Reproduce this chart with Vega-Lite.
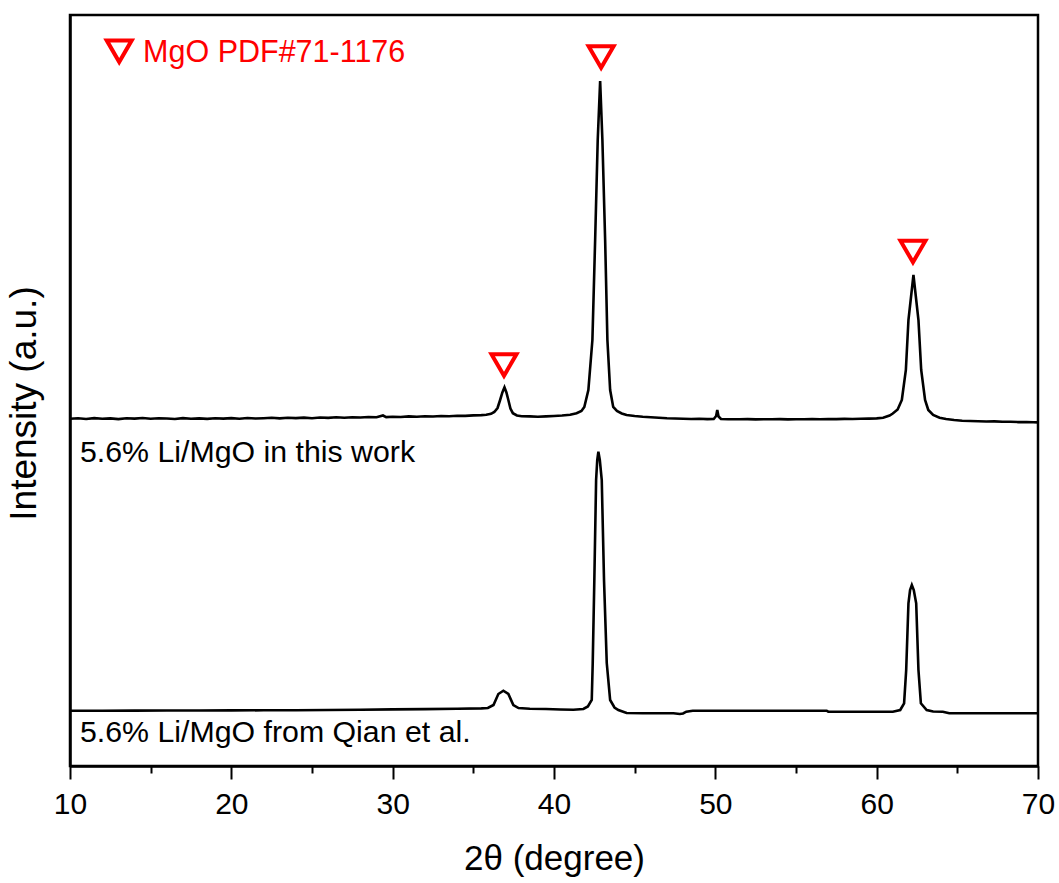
{
  "$schema": "https://vega.github.io/schema/vega-lite/v6.json",
  "width": 968,
  "height": 751,
  "autosize": {"type": "none"},
  "padding": {"left": 70, "top": 15, "right": 21, "bottom": 117},
  "background": "white",
  "config": {
    "view": {"stroke": "black", "strokeWidth": 2.5},
    "font": "Liberation Sans"
  },
  "datasets": {
    "traces": [
      {"series": "work", "x": 10.0, "y": 347.2}, {"series": "work", "x": 10.5, "y": 347.8}, {"series": "work", "x": 11.0, "y": 347.0}, {"series": "work", "x": 11.5, "y": 347.9}, {"series": "work", "x": 12.0, "y": 347.3}, {"series": "work", "x": 12.5, "y": 347.6}, {"series": "work", "x": 13.0, "y": 346.9}, {"series": "work", "x": 13.5, "y": 347.7}, {"series": "work", "x": 14.0, "y": 347.4}, {"series": "work", "x": 14.5, "y": 348.0}, {"series": "work", "x": 15.0, "y": 347.2}, {"series": "work", "x": 15.5, "y": 347.8}, {"series": "work", "x": 16.0, "y": 347.5}, {"series": "work", "x": 16.5, "y": 347.0}, {"series": "work", "x": 17.0, "y": 347.9}, {"series": "work", "x": 17.5, "y": 347.3}, {"series": "work", "x": 18.0, "y": 347.6}, {"series": "work", "x": 18.5, "y": 347.1}, {"series": "work", "x": 19.0, "y": 347.8}, {"series": "work", "x": 19.5, "y": 347.4}, {"series": "work", "x": 20.0, "y": 347.9}, {"series": "work", "x": 20.5, "y": 347.3}, {"series": "work", "x": 21.0, "y": 348.0}, {"series": "work", "x": 21.5, "y": 347.5}, {"series": "work", "x": 22.0, "y": 347.8}, {"series": "work", "x": 22.5, "y": 348.2}, {"series": "work", "x": 23.0, "y": 347.6}, {"series": "work", "x": 23.5, "y": 348.3}, {"series": "work", "x": 24.0, "y": 347.9}, {"series": "work", "x": 24.5, "y": 348.4}, {"series": "work", "x": 25.0, "y": 347.8}, {"series": "work", "x": 25.5, "y": 348.5}, {"series": "work", "x": 26.0, "y": 348.1}, {"series": "work", "x": 26.5, "y": 348.7}, {"series": "work", "x": 27.0, "y": 348.3}, {"series": "work", "x": 27.5, "y": 348.8}, {"series": "work", "x": 28.0, "y": 348.5}, {"series": "work", "x": 28.5, "y": 349.0}, {"series": "work", "x": 29.0, "y": 348.7}, {"series": "work", "x": 29.4, "y": 350.5}, {"series": "work", "x": 29.6, "y": 348.9}, {"series": "work", "x": 30.0, "y": 349.3}, {"series": "work", "x": 30.5, "y": 349.0}, {"series": "work", "x": 31.0, "y": 349.6}, {"series": "work", "x": 31.5, "y": 349.2}, {"series": "work", "x": 32.0, "y": 349.8}, {"series": "work", "x": 32.5, "y": 349.5}, {"series": "work", "x": 33.0, "y": 350.0}, {"series": "work", "x": 33.5, "y": 349.8}, {"series": "work", "x": 34.0, "y": 350.3}, {"series": "work", "x": 34.5, "y": 350.1}, {"series": "work", "x": 35.0, "y": 350.6}, {"series": "work", "x": 35.5, "y": 350.9}, {"series": "work", "x": 35.8, "y": 351.3}, {"series": "work", "x": 36.1, "y": 352.2}, {"series": "work", "x": 36.3, "y": 354.0}, {"series": "work", "x": 36.5, "y": 358.0}, {"series": "work", "x": 36.66, "y": 366.0}, {"series": "work", "x": 36.8, "y": 373.5}, {"series": "work", "x": 36.93, "y": 378.7}, {"series": "work", "x": 37.05, "y": 373.5}, {"series": "work", "x": 37.17, "y": 366.0}, {"series": "work", "x": 37.3, "y": 357.5}, {"series": "work", "x": 37.45, "y": 352.8}, {"series": "work", "x": 37.7, "y": 350.5}, {"series": "work", "x": 38.0, "y": 349.8}, {"series": "work", "x": 38.5, "y": 349.6}, {"series": "work", "x": 39.0, "y": 349.3}, {"series": "work", "x": 39.5, "y": 349.6}, {"series": "work", "x": 40.0, "y": 350.0}, {"series": "work", "x": 40.5, "y": 350.5}, {"series": "work", "x": 41.0, "y": 351.3}, {"series": "work", "x": 41.4, "y": 352.8}, {"series": "work", "x": 41.7, "y": 355.0}, {"series": "work", "x": 41.88, "y": 359.0}, {"series": "work", "x": 42.13, "y": 376.0}, {"series": "work", "x": 42.38, "y": 426.0}, {"series": "work", "x": 42.55, "y": 526.0}, {"series": "work", "x": 42.71, "y": 626.0}, {"series": "work", "x": 42.86, "y": 685.0}, {"series": "work", "x": 43.0, "y": 626.0}, {"series": "work", "x": 43.17, "y": 526.0}, {"series": "work", "x": 43.31, "y": 426.0}, {"series": "work", "x": 43.48, "y": 376.0}, {"series": "work", "x": 43.67, "y": 359.0}, {"series": "work", "x": 43.9, "y": 355.0}, {"series": "work", "x": 44.2, "y": 352.5}, {"series": "work", "x": 44.5, "y": 351.0}, {"series": "work", "x": 45.0, "y": 350.0}, {"series": "work", "x": 45.5, "y": 349.2}, {"series": "work", "x": 46.0, "y": 348.8}, {"series": "work", "x": 46.5, "y": 348.3}, {"series": "work", "x": 47.0, "y": 347.7}, {"series": "work", "x": 47.5, "y": 347.5}, {"series": "work", "x": 48.0, "y": 347.3}, {"series": "work", "x": 48.5, "y": 347.0}, {"series": "work", "x": 49.0, "y": 347.2}, {"series": "work", "x": 49.5, "y": 346.9}, {"series": "work", "x": 49.9, "y": 347.0}, {"series": "work", "x": 50.05, "y": 350.0}, {"series": "work", "x": 50.12, "y": 356.0}, {"series": "work", "x": 50.2, "y": 349.5}, {"series": "work", "x": 50.35, "y": 347.0}, {"series": "work", "x": 50.8, "y": 346.8}, {"series": "work", "x": 51.5, "y": 346.7}, {"series": "work", "x": 52.0, "y": 346.9}, {"series": "work", "x": 52.5, "y": 346.6}, {"series": "work", "x": 53.0, "y": 346.8}, {"series": "work", "x": 53.5, "y": 346.7}, {"series": "work", "x": 54.0, "y": 346.9}, {"series": "work", "x": 54.5, "y": 346.6}, {"series": "work", "x": 55.0, "y": 346.8}, {"series": "work", "x": 55.5, "y": 346.7}, {"series": "work", "x": 56.0, "y": 347.0}, {"series": "work", "x": 56.5, "y": 346.8}, {"series": "work", "x": 57.0, "y": 347.0}, {"series": "work", "x": 57.5, "y": 346.9}, {"series": "work", "x": 58.0, "y": 347.1}, {"series": "work", "x": 58.5, "y": 347.0}, {"series": "work", "x": 59.0, "y": 347.3}, {"series": "work", "x": 59.5, "y": 347.4}, {"series": "work", "x": 60.0, "y": 347.6}, {"series": "work", "x": 60.4, "y": 348.2}, {"series": "work", "x": 60.8, "y": 350.5}, {"series": "work", "x": 61.0, "y": 352.5}, {"series": "work", "x": 61.3, "y": 356.5}, {"series": "work", "x": 61.56, "y": 366.0}, {"series": "work", "x": 61.81, "y": 396.0}, {"series": "work", "x": 61.97, "y": 446.0}, {"series": "work", "x": 62.28, "y": 491.0}, {"series": "work", "x": 62.59, "y": 446.0}, {"series": "work", "x": 62.76, "y": 396.0}, {"series": "work", "x": 63.0, "y": 366.0}, {"series": "work", "x": 63.2, "y": 356.0}, {"series": "work", "x": 63.5, "y": 351.0}, {"series": "work", "x": 63.9, "y": 348.3}, {"series": "work", "x": 64.3, "y": 347.0}, {"series": "work", "x": 64.8, "y": 346.0}, {"series": "work", "x": 65.3, "y": 345.3}, {"series": "work", "x": 65.8, "y": 345.0}, {"series": "work", "x": 66.3, "y": 344.8}, {"series": "work", "x": 66.8, "y": 344.5}, {"series": "work", "x": 67.3, "y": 344.6}, {"series": "work", "x": 67.8, "y": 344.2}, {"series": "work", "x": 68.3, "y": 344.3}, {"series": "work", "x": 68.8, "y": 343.9}, {"series": "work", "x": 69.3, "y": 344.0}, {"series": "work", "x": 69.7, "y": 343.7}, {"series": "work", "x": 70.0, "y": 343.6},
      {"series": "qian", "x": 10.0, "y": 55.3}, {"series": "qian", "x": 12.0, "y": 55.3}, {"series": "qian", "x": 14.0, "y": 55.4}, {"series": "qian", "x": 16.0, "y": 55.5}, {"series": "qian", "x": 18.0, "y": 55.5}, {"series": "qian", "x": 20.0, "y": 55.6}, {"series": "qian", "x": 22.0, "y": 55.7}, {"series": "qian", "x": 24.0, "y": 55.8}, {"series": "qian", "x": 26.0, "y": 56.0}, {"series": "qian", "x": 28.0, "y": 56.3}, {"series": "qian", "x": 30.0, "y": 56.6}, {"series": "qian", "x": 32.0, "y": 56.9}, {"series": "qian", "x": 34.0, "y": 57.2}, {"series": "qian", "x": 35.5, "y": 57.6}, {"series": "qian", "x": 35.9, "y": 58.0}, {"series": "qian", "x": 36.25, "y": 61.0}, {"series": "qian", "x": 36.55, "y": 72.0}, {"series": "qian", "x": 36.86, "y": 75.3}, {"series": "qian", "x": 37.17, "y": 72.0}, {"series": "qian", "x": 37.48, "y": 61.0}, {"series": "qian", "x": 37.8, "y": 58.0}, {"series": "qian", "x": 38.5, "y": 57.3}, {"series": "qian", "x": 39.5, "y": 57.0}, {"series": "qian", "x": 40.4, "y": 56.5}, {"series": "qian", "x": 41.2, "y": 56.3}, {"series": "qian", "x": 41.82, "y": 57.0}, {"series": "qian", "x": 42.1, "y": 59.5}, {"series": "qian", "x": 42.34, "y": 66.0}, {"series": "qian", "x": 42.4, "y": 103.0}, {"series": "qian", "x": 42.5, "y": 186.0}, {"series": "qian", "x": 42.61, "y": 286.0}, {"series": "qian", "x": 42.68, "y": 306.0}, {"series": "qian", "x": 42.75, "y": 314.3}, {"series": "qian", "x": 42.84, "y": 306.0}, {"series": "qian", "x": 42.96, "y": 286.0}, {"series": "qian", "x": 43.1, "y": 186.0}, {"series": "qian", "x": 43.27, "y": 103.0}, {"series": "qian", "x": 43.48, "y": 66.0}, {"series": "qian", "x": 43.75, "y": 58.5}, {"series": "qian", "x": 43.99, "y": 56.0}, {"series": "qian", "x": 44.5, "y": 53.0}, {"series": "qian", "x": 45.5, "y": 52.7}, {"series": "qian", "x": 46.5, "y": 52.7}, {"series": "qian", "x": 47.4, "y": 52.7}, {"series": "qian", "x": 47.8, "y": 52.0}, {"series": "qian", "x": 48.0, "y": 52.5}, {"series": "qian", "x": 48.2, "y": 54.3}, {"series": "qian", "x": 48.6, "y": 55.3}, {"series": "qian", "x": 50.0, "y": 55.3}, {"series": "qian", "x": 52.0, "y": 55.3}, {"series": "qian", "x": 54.0, "y": 55.3}, {"series": "qian", "x": 56.9, "y": 55.3}, {"series": "qian", "x": 57.0, "y": 54.3}, {"series": "qian", "x": 58.5, "y": 54.3}, {"series": "qian", "x": 60.0, "y": 54.3}, {"series": "qian", "x": 61.0, "y": 54.3}, {"series": "qian", "x": 61.46, "y": 56.0}, {"series": "qian", "x": 61.7, "y": 62.7}, {"series": "qian", "x": 61.83, "y": 96.0}, {"series": "qian", "x": 61.97, "y": 162.7}, {"series": "qian", "x": 62.07, "y": 176.0}, {"series": "qian", "x": 62.18, "y": 181.0}, {"series": "qian", "x": 62.3, "y": 176.0}, {"series": "qian", "x": 62.45, "y": 162.7}, {"series": "qian", "x": 62.59, "y": 96.0}, {"series": "qian", "x": 62.74, "y": 62.7}, {"series": "qian", "x": 63.1, "y": 56.0}, {"series": "qian", "x": 63.5, "y": 54.5}, {"series": "qian", "x": 64.1, "y": 54.3}, {"series": "qian", "x": 64.5, "y": 52.7}, {"series": "qian", "x": 66.0, "y": 52.7}, {"series": "qian", "x": 68.0, "y": 52.7}, {"series": "qian", "x": 70.0, "y": 52.7}
    ],
    "markers": [
      {"x": 36.9, "y": 401},
      {"x": 42.92, "y": 709},
      {"x": 62.25, "y": 514.5},
      {"x": 13.05, "y": 714.8}
    ],
    "legendText": [
      {"x": 14.53, "y": 704.3, "label": "MgO PDF#71-1176"}
    ],
    "sampleText": [
      {"x": 10.62, "y": 304, "label": "5.6% Li/MgO in this work"},
      {"x": 10.62, "y": 24.3, "label": "5.6% Li/MgO from Qian et al."}
    ]
  },
  "layer": [
    {
      "data": {"name": "traces"},
      "mark": {"type": "line", "color": "black", "strokeWidth": 2.6, "clip": true},
      "encoding": {
        "x": {
          "field": "x", "type": "quantitative",
          "scale": {"domain": [10, 70], "nice": false, "zero": false},
          "axis": {
            "title": "2θ (degree)",
            "orient": "bottom",
            "values": [10, 20, 30, 40, 50, 60, 70],
            "grid": false,
            "tickSize": 13, "tickWidth": 2, "tickColor": "black",
            "domainColor": "black", "domainWidth": 2.5,
            "labelFont": "Liberation Sans", "labelFontSize": 30, "labelColor": "black",
            "labelPadding": 10, "labelFlush": false,
            "titleFont": "Liberation Sans", "titleFontSize": 35, "titleFontWeight": "normal",
            "titleColor": "black", "titlePadding": 22
          }
        },
        "y": {
          "field": "y", "type": "quantitative",
          "scale": {"domain": [0, 751], "nice": false, "zero": false},
          "axis": {
            "orient": "left",
            "title": "Intensity (a.u.)",
            "values": [],
            "tickSize": 0,
            "grid": false,
            "domainColor": "black", "domainWidth": 2.5,
            "titleFont": "Liberation Sans", "titleFontSize": 37, "titleFontWeight": "normal",
            "titleColor": "black", "titlePadding": 27, "titleY": 388
          }
        },
        "detail": {"field": "series", "type": "nominal"}
      }
    },
    {
      "data": {"name": "markers"},
      "mark": {"type": "point", "shape": "triangle-down", "filled": false, "stroke": "#ff0000", "strokeWidth": 4, "size": 625, "opacity": 1},
      "encoding": {
        "x": {
          "field": "x", "type": "quantitative",
          "scale": {"domain": [10, 70], "nice": false, "zero": false},
          "axis": {
            "title": null, "orient": "bottom",
            "values": [15, 25, 35, 45, 55, 65],
            "labels": false, "domain": false, "grid": false,
            "tickSize": 7, "tickWidth": 2, "tickColor": "black"
          }
        },
        "y": {"field": "y", "type": "quantitative", "scale": {"domain": [0, 751], "nice": false, "zero": false}, "axis": null}
      }
    },
    {
      "data": {"name": "legendText"},
      "mark": {"type": "text", "align": "left", "baseline": "alphabetic", "fontSize": 30.5, "font": "Liberation Sans", "color": "#ff0000"},
      "encoding": {
        "x": {"field": "x", "type": "quantitative", "scale": {"domain": [10, 70], "nice": false, "zero": false}, "axis": null},
        "y": {"field": "y", "type": "quantitative", "scale": {"domain": [0, 751], "nice": false, "zero": false}, "axis": null},
        "text": {"field": "label"}
      }
    },
    {
      "data": {"name": "sampleText"},
      "mark": {"type": "text", "align": "left", "baseline": "alphabetic", "fontSize": 30.3, "font": "Liberation Sans", "color": "black"},
      "encoding": {
        "x": {"field": "x", "type": "quantitative", "scale": {"domain": [10, 70], "nice": false, "zero": false}, "axis": null},
        "y": {"field": "y", "type": "quantitative", "scale": {"domain": [0, 751], "nice": false, "zero": false}, "axis": null},
        "text": {"field": "label"}
      }
    }
  ],
  "resolve": {"axis": {"x": "independent", "y": "independent"}}
}
